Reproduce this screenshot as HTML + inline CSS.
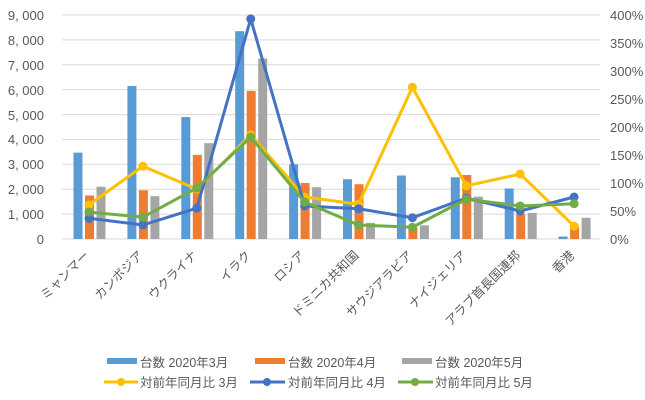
<!DOCTYPE html>
<html><head><meta charset="utf-8"><style>
html,body{margin:0;padding:0;background:#fff}
svg{display:block;font-family:"Liberation Sans","Noto Sans CJK JP",sans-serif}
</style></head><body>
<svg width="645" height="400" viewBox="0 0 645 400" xmlns="http://www.w3.org/2000/svg">
<g stroke="#d9d9d9" stroke-width="1">
<line x1="62" x2="600" y1="15" y2="15"/><line x1="62" x2="600" y1="39.9" y2="39.9"/><line x1="62" x2="600" y1="64.8" y2="64.8"/><line x1="62" x2="600" y1="89.7" y2="89.7"/><line x1="62" x2="600" y1="114.6" y2="114.6"/><line x1="62" x2="600" y1="139.4" y2="139.4"/><line x1="62" x2="600" y1="164.3" y2="164.3"/><line x1="62" x2="600" y1="189.2" y2="189.2"/><line x1="62" x2="600" y1="214.1" y2="214.1"/><line x1="62" x2="600" y1="239" y2="239"/>
</g>
<g font-size="13" fill="#595959" text-anchor="end">
<text x="44" y="20">9, 000</text><text x="44" y="45">8, 000</text><text x="44" y="70">7, 000</text><text x="44" y="95">6, 000</text><text x="44" y="120">5, 000</text><text x="44" y="144">4, 000</text><text x="44" y="169">3, 000</text><text x="44" y="194">2, 000</text><text x="44" y="219">1, 000</text><text x="44" y="244">0</text>
</g>
<g font-size="13" fill="#595959">
<text x="610" y="20">400%</text><text x="610" y="48">350%</text><text x="610" y="76">300%</text><text x="610" y="104">250%</text><text x="610" y="132">200%</text><text x="610" y="160">150%</text><text x="610" y="188">100%</text><text x="610" y="216">50%</text><text x="610" y="244">0%</text>
</g>
<g id="bars"></g>
<g id="lines"></g>
<g font-size="12.5" fill="#595959" id="labels"></g>
<g font-size="12.5" fill="#595959">
<rect x="107" y="358" width="30" height="6" fill="#5b9bd5"/><text x="140" y="367">台数 2020年3月</text>
<rect x="255" y="358" width="30" height="6" fill="#ed7d31"/><text x="288" y="367">台数 2020年4月</text>
<rect x="402" y="358" width="30" height="6" fill="#a5a5a5"/><text x="435" y="367">台数 2020年5月</text>
<line x1="104" x2="138" y1="382" y2="382" stroke="#ffc000" stroke-width="3"/><circle cx="121" cy="382" r="4" fill="#ffc000"/><text x="140" y="387">対前年同月比 3月</text>
<line x1="250" x2="285" y1="382" y2="382" stroke="#4472c4" stroke-width="3"/><circle cx="267" cy="382" r="4" fill="#4472c4"/><text x="288" y="387">対前年同月比 4月</text>
<line x1="398" x2="433" y1="382" y2="382" stroke="#70ad47" stroke-width="3"/><circle cx="415" cy="382" r="4" fill="#70ad47"/><text x="435" y="387">対前年同月比 5月</text>
</g>
</svg>
<script>
var cats=["ミャンマー","カンボジア","ウクライナ","イラク","ロシア","ドミニカ共和国","サウジアラビア","ナイジェリア","アラブ首長国連邦","香港"];
var b=[[3470,1750,2100],[6150,1960,1720],[4900,3380,3850],[8350,5950,7250],[3000,2250,2080],[2400,2200,650],[2550,450,550],[2480,2570,1700],[2030,1000,1050],[100,500,850]];
var p=[[61,37,48],[130,25,39],[89,55,91],[186,393,182],[75,59,66],[62,54,25],[271,38,21],[95,73,71],[116,50,59],[23,75,63]];
var bc=["#5b9bd5","#ed7d31","#a5a5a5"],lc=["#ffc000","#4472c4","#70ad47"];
var NS="http://www.w3.org/2000/svg";
function el(t,a,par){var e=document.createElementNS(NS,t);for(var k in a)e.setAttribute(k,a[k]);document.getElementById(par).appendChild(e);return e;}
function cx(i){return 89+i*53.9;}
for(var i=0;i<10;i++){for(var j=0;j<3;j++){var h=b[i][j]/9000*224;el("rect",{x:cx(i)-15.5+j*11.5,y:239-h,width:9,height:h,fill:bc[j]},"bars");}
var t=el("text",{x:cx(i)+1,y:256,"text-anchor":"end",transform:"rotate(-45 "+(cx(i)+1)+" 256)"},"labels");t.textContent=cats[i];}
for(var j=0;j<3;j++){var pts=[];for(var i=0;i<10;i++)pts.push(cx(i)+","+(239-p[i][j]/400*224));
el("polyline",{points:pts.join(" "),fill:"none",stroke:lc[j],"stroke-width":3,"stroke-linejoin":"round"},"lines");
for(var i=0;i<10;i++)el("circle",{cx:cx(i),cy:239-p[i][j]/400*224,r:4.5,fill:lc[j]},"lines");}
</script>
</body></html>
